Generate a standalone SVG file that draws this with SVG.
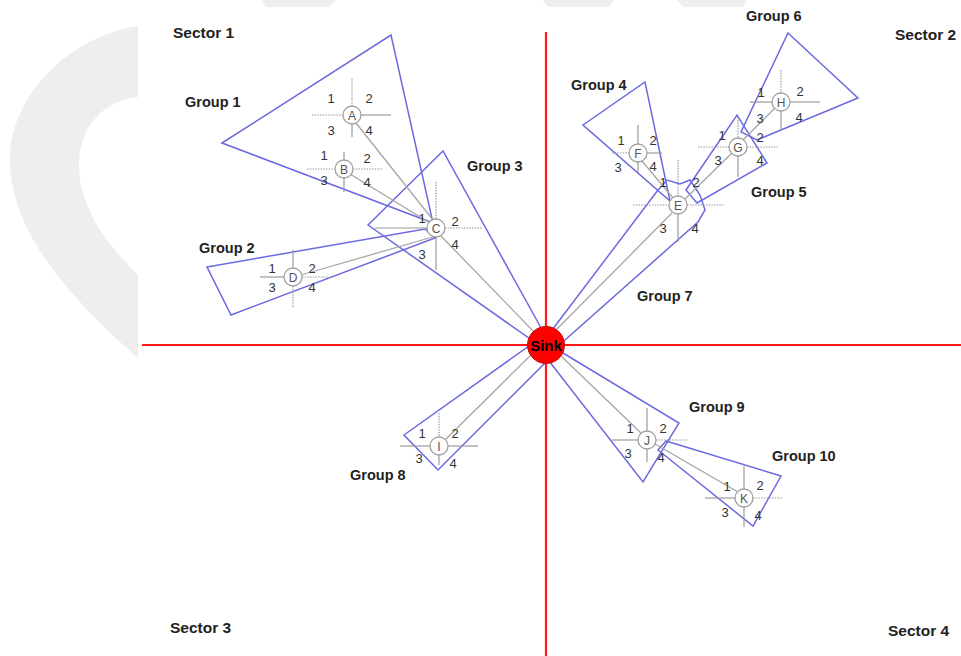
<svg xmlns="http://www.w3.org/2000/svg" width="961" height="656" viewBox="0 0 961 656">
<style>
.wm{fill:#eeeeee}
.axis{stroke:#ff1a1a;stroke-width:2.2;fill:none}
.grp{fill:none;stroke:#6a6ae0;stroke-width:1.5;stroke-linejoin:miter}
.con{stroke:#a6a6a6;stroke-width:1.3;fill:none}
.arm{stroke:#9a9a9a;stroke-width:1.2}
.dot{stroke:#9a9a9a;stroke-width:1.2;stroke-dasharray:1.5 1.2}
.nd{fill:#ffffff;stroke:#a0a0a0;stroke-width:1.3}
.nl{font-family:"Liberation Sans",Arial,sans-serif;font-size:12px;fill:#555555;text-anchor:middle}
.q{font-family:"Liberation Sans",Arial,sans-serif;font-size:13px;fill:#333333;text-anchor:middle}
.lbl{font-family:"Liberation Sans",Arial,sans-serif;font-size:14.5px;font-weight:bold;fill:#222222}
.sec{font-family:"Liberation Sans",Arial,sans-serif;font-size:15.5px;font-weight:bold;fill:#222222}
</style>
<rect x="0" y="0" width="961" height="656" fill="#ffffff"/>
<!-- watermark -->
<g id="watermark">
<path class="wm" d="M138,26 C70,36 10,95 10,160 C10,225 60,290 138,358 L138,275 C100,238 79,202 79,165 C79,128 103,100 138,97 Z"/>
<polygon class="wm" points="261,0 336,0 329,7 266,7"/>
<polygon class="wm" points="543,0 614,0 609,7 548,7"/>
<polygon class="wm" points="677,0 747,0 743,7 683,7"/>
</g>
<!-- axes -->
<g id="axes">
<line class="axis" x1="546" y1="32" x2="546" y2="656"/>
<line class="axis" x1="142" y1="345" x2="961" y2="345"/>
</g>
<!-- group regions -->
<g id="group-1"><polygon class="grp" points="222,143 391,35 433,223"/><text class="lbl" x="185" y="107">Group 1</text></g>
<g id="group-2"><polygon class="grp" points="207,267 425,229 435,238 231,315"/><text class="lbl" x="199" y="253">Group 2</text></g>
<g id="group-3"><polygon class="grp" points="368,225 443,151 545,335 536,343"/><text class="lbl" x="467" y="171">Group 3</text></g>
<g id="group-4"><polygon class="grp" points="583,125 645,82 670,201"/><text class="lbl" x="571" y="90">Group 4</text></g>
<g id="group-5"><polygon class="grp" points="686,190 737,115 767,163 697,203"/><text class="lbl" x="751" y="197">Group 5</text></g>
<g id="group-6"><polygon class="grp" points="788,33 858,98 757,140 741,132"/><text class="lbl" x="746" y="21">Group 6</text></g>
<g id="group-7"><polygon class="grp" points="546,338 658,190 667,180 680,184 690,180 700,195 705,210 698,222 556,348"/><text class="lbl" x="637" y="301">Group 7</text></g>
<g id="group-8"><polygon class="grp" points="404,435 529,346 546,362 438,470"/><text class="lbl" x="350" y="480">Group 8</text></g>
<g id="group-9"><polygon class="grp" points="558,350 679,423 643,482 549,361"/><text class="lbl" x="689" y="412">Group 9</text></g>
<g id="group-10"><polygon class="grp" points="666,441 781,476 753,526 658,450"/><text class="lbl" x="772" y="461">Group 10</text></g>
<!-- connectors -->
<g id="connectors">
<line class="con" x1="356" y1="123" x2="433" y2="220"/>
<line class="con" x1="350" y1="174" x2="430" y2="223"/>
<line class="con" x1="301" y1="275" x2="436" y2="236"/>
<line class="con" x1="441" y1="236" x2="536" y2="334"/>
<line class="con" x1="642" y1="161" x2="673" y2="198"/>
<line class="con" x1="775" y1="108" x2="743" y2="140"/>
<line class="con" x1="732" y1="153" x2="685" y2="199"/>
<line class="con" x1="672" y1="213" x2="553" y2="333"/>
<line class="con" x1="445" y1="440" x2="534" y2="352"/>
<line class="con" x1="641" y1="433" x2="560" y2="355"/>
<line class="con" x1="738" y1="492" x2="655" y2="444"/>
</g>
<!-- nodes -->
<g id="node-A">
<line class="dot" x1="312" y1="115" x2="343" y2="115"/><line class="arm" x1="361" y1="115" x2="391" y2="115"/>
<line class="dot" x1="352" y1="78" x2="352" y2="106"/><line class="arm" x1="352" y1="124" x2="352" y2="137"/>
<circle class="nd" cx="352" cy="115" r="9"/><text class="nl" x="352" y="119.5">A</text>
<text class="q" x="331" y="103">1</text><text class="q" x="369" y="103">2</text><text class="q" x="331" y="135">3</text><text class="q" x="369" y="135">4</text>
</g>
<g id="node-B">
<line class="dot" x1="307" y1="169" x2="335" y2="169"/><line class="dot" x1="353" y1="169" x2="383" y2="169"/>
<line class="arm" x1="344" y1="152" x2="344" y2="160"/><line class="arm" x1="344" y1="178" x2="344" y2="192"/>
<circle class="nd" cx="344" cy="169" r="9"/><text class="nl" x="344" y="173.5">B</text>
<text class="q" x="324" y="160">1</text><text class="q" x="367" y="163">2</text><text class="q" x="324" y="185">3</text><text class="q" x="367" y="187">4</text>
</g>
<g id="node-C">
<line class="arm" x1="375" y1="228" x2="427" y2="228"/><line class="dot" x1="445" y1="228" x2="482" y2="228"/>
<line class="dot" x1="436" y1="182" x2="436" y2="219"/><line class="arm" x1="436" y1="237" x2="436" y2="270"/>
<circle class="nd" cx="436" cy="228" r="9"/><text class="nl" x="436" y="232.5">C</text>
<text class="q" x="422" y="223">1</text><text class="q" x="455" y="226">2</text><text class="q" x="422" y="259">3</text><text class="q" x="455" y="249">4</text>
</g>
<g id="node-D">
<line class="arm" x1="260" y1="277" x2="284" y2="277"/><line class="dot" x1="302" y1="277" x2="332" y2="277"/>
<line class="arm" x1="293" y1="250" x2="293" y2="268"/><line class="dot" x1="293" y1="286" x2="293" y2="308"/>
<circle class="nd" cx="293" cy="277" r="9"/><text class="nl" x="293" y="281.5">D</text>
<text class="q" x="272" y="273">1</text><text class="q" x="312" y="273">2</text><text class="q" x="272" y="292">3</text><text class="q" x="312" y="292">4</text>
</g>
<g id="node-E">
<line class="dot" x1="633" y1="205" x2="669" y2="205"/><line class="dot" x1="687" y1="205" x2="725" y2="205"/>
<line class="dot" x1="678" y1="160" x2="678" y2="196"/><line class="arm" x1="678" y1="214" x2="678" y2="242"/>
<circle class="nd" cx="678" cy="205" r="9"/><text class="nl" x="678" y="209.5">E</text>
<text class="q" x="663" y="187">1</text><text class="q" x="696" y="187">2</text><text class="q" x="663" y="233">3</text><text class="q" x="695" y="233">4</text>
</g>
<g id="node-F">
<line class="dot" x1="612" y1="153" x2="629" y2="153"/><line class="arm" x1="647" y1="153" x2="662" y2="153"/>
<line class="arm" x1="638" y1="125" x2="638" y2="144"/><line class="arm" x1="638" y1="162" x2="638" y2="172"/>
<circle class="nd" cx="638" cy="153" r="9"/><text class="nl" x="638" y="157.5">F</text>
<text class="q" x="621" y="145">1</text><text class="q" x="653" y="145">2</text><text class="q" x="618" y="172">3</text><text class="q" x="653" y="171">4</text>
</g>
<g id="node-G">
<line class="dot" x1="698" y1="147" x2="729" y2="147"/><line class="dot" x1="747" y1="147" x2="778" y2="147"/>
<line class="dot" x1="738" y1="117" x2="738" y2="138"/><line class="arm" x1="738" y1="156" x2="738" y2="177"/>
<circle class="nd" cx="738" cy="147" r="9"/><text class="nl" x="738" y="151.5">G</text>
<text class="q" x="722" y="140">1</text><text class="q" x="760" y="142">2</text><text class="q" x="718" y="165">3</text><text class="q" x="760" y="165">4</text>
</g>
<g id="node-H">
<line class="arm" x1="750" y1="102" x2="772" y2="102"/><line class="arm" x1="790" y1="102" x2="820" y2="102"/>
<line class="dot" x1="781" y1="70" x2="781" y2="93"/><line class="arm" x1="781" y1="111" x2="781" y2="130"/>
<circle class="nd" cx="781" cy="102" r="9"/><text class="nl" x="781" y="106.5">H</text>
<text class="q" x="761" y="97">1</text><text class="q" x="800" y="96">2</text><text class="q" x="760" y="123">3</text><text class="q" x="799" y="122">4</text>
</g>
<g id="node-I">
<line class="arm" x1="400" y1="446" x2="430" y2="446"/><line class="arm" x1="448" y1="446" x2="478" y2="446"/>
<line class="dot" x1="439" y1="413" x2="439" y2="437"/><line class="arm" x1="439" y1="455" x2="439" y2="465"/>
<circle class="nd" cx="439" cy="446" r="9"/><text class="nl" x="439" y="450.5">I</text>
<text class="q" x="422" y="438">1</text><text class="q" x="455" y="438">2</text><text class="q" x="419" y="463">3</text><text class="q" x="453" y="468">4</text>
</g>
<g id="node-J">
<line class="arm" x1="612" y1="440" x2="638" y2="440"/><line class="dot" x1="656" y1="440" x2="687" y2="440"/>
<line class="arm" x1="647" y1="408" x2="647" y2="431"/><line class="arm" x1="647" y1="449" x2="647" y2="462"/>
<circle class="nd" cx="647" cy="440" r="9"/><text class="nl" x="647" y="444.5">J</text>
<text class="q" x="630" y="433">1</text><text class="q" x="663" y="433">2</text><text class="q" x="628" y="458">3</text><text class="q" x="661" y="462">4</text>
</g>
<g id="node-K">
<line class="arm" x1="705" y1="498" x2="735" y2="498"/><line class="dot" x1="753" y1="498" x2="783" y2="498"/>
<line class="arm" x1="744" y1="466" x2="744" y2="489"/><line class="arm" x1="744" y1="507" x2="744" y2="527"/>
<circle class="nd" cx="744" cy="498" r="9"/><text class="nl" x="744" y="502.5">K</text>
<text class="q" x="727" y="491">1</text><text class="q" x="760" y="490">2</text><text class="q" x="725" y="517">3</text><text class="q" x="758" y="520">4</text>
</g>
<g id="node-Sink">
<circle cx="546" cy="345" r="18.5" fill="#ff0000" stroke="#d00000" stroke-width="1"/>
<text x="546" y="350.5" font-family="'Liberation Sans',Arial,sans-serif" font-size="15" font-weight="bold" fill="#000000" text-anchor="middle">Sink</text>
</g>
<!-- sector labels -->
<g id="sectors">
<text class="sec" x="173" y="38">Sector 1</text>
<text class="sec" x="895" y="40">Sector 2</text>
<text class="sec" x="170" y="633">Sector 3</text>
<text class="sec" x="888" y="636">Sector 4</text>
</g>
</svg>
